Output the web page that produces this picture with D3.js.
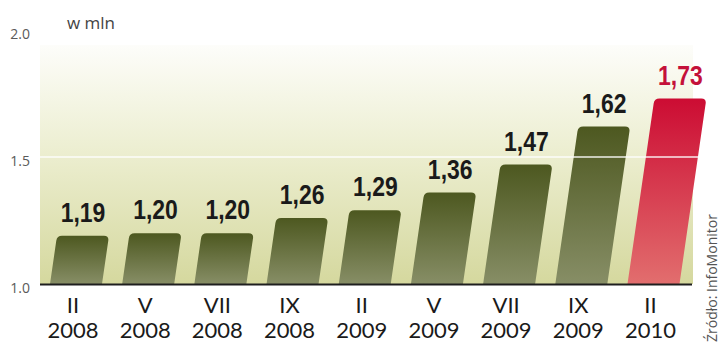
<!DOCTYPE html>
<html>
<head>
<meta charset="utf-8">
<script src="https://cdn.jsdelivr.net/npm/d3@7"></script>
<style>
  html, body { margin: 0; padding: 0; background: #ffffff; }
  svg { display: block; }
</style>
</head>
<body>
<svg id="chart" width="720" height="343"></svg>
<script>
// ---- data ----
const monthLabels = ["II", "V", "VII", "IX", "II", "V", "VII", "IX", "II"];
const yearLabels  = ["2008", "2008", "2008", "2008", "2009", "2009", "2009", "2009", "2010"];
const values      = [1.19, 1.20, 1.20, 1.26, 1.29, 1.36, 1.47, 1.62, 1.73];
const valueLabels = ["1,19", "1,20", "1,20", "1,26", "1,29", "1,36", "1,47", "1,62", "1,73"];
const highlight   = [false, false, false, false, false, false, false, false, true];
const yTicks      = [1.0, 1.5, 2.0];
const unitLabel   = "w mln";
const sourceLabel = "Źródło: InfoMonitor";

const svg = d3.select("#chart");
const keys = values.map((d, i) => i);

const y = d3.scaleLinear().domain([1, 2]).range([284, 30]);
const x = d3.scalePoint().domain(keys).range([76, 653.5]);
const barW = 52;
const slant = 0.145;
const skewDeg = Math.atan(slant) * 180 / Math.PI;
const plotL = 40, plotR = 693;

const defs = svg.append("defs");
const bg = defs.append("linearGradient").attr("id", "bgGrad")
  .attr("x1", 0).attr("y1", 0).attr("x2", 0).attr("y2", 1);
bg.append("stop").attr("offset", "0%").attr("stop-color", "#fdfdfa");
bg.append("stop").attr("offset", "45%").attr("stop-color", "#eceed0");
bg.append("stop").attr("offset", "100%").attr("stop-color", "#d5d89e");

const og = defs.append("linearGradient").attr("id", "oliveGrad")
  .attr("x1", 0).attr("y1", 0).attr("x2", 0).attr("y2", 1);
og.append("stop").attr("offset", "0%").attr("stop-color", "#4d5820");
og.append("stop").attr("offset", "100%").attr("stop-color", "#878e66");

const rg = defs.append("linearGradient").attr("id", "redGrad")
  .attr("x1", 0).attr("y1", 0).attr("x2", 0).attr("y2", 1);
rg.append("stop").attr("offset", "0%").attr("stop-color", "#cc0c33");
rg.append("stop").attr("offset", "100%").attr("stop-color", "#e26e6e");

// background
svg.append("rect")
  .attr("x", plotL).attr("y", 45)
  .attr("width", plotR - plotL).attr("height", y(1) - 45)
  .attr("fill", "url(#bgGrad)");

// y tick labels
svg.append("g").selectAll("text").data(yTicks).join("text")
  .attr("x", 30).attr("y", d => y(d) + 9)
  .attr("text-anchor", "end")
  .attr("font-family", "Open Sans, sans-serif")
  .attr("font-size", 14)
  .attr("fill", "#5a5a5a")
  .text(d => d3.format(".1f")(d));

// unit label
svg.append("text")
  .attr("x", 67).attr("y", 29)
  .attr("font-family", "Open Sans, sans-serif")
  .attr("font-size", 17)
  .attr("fill", "#444")
  .text(unitLabel);

// bars
const y0 = y(1);
const r = 5;
function barPath(i) {
  const cx = x(i);
  const x0 = cx - barW / 2, x1 = cx + barW / 2, yt = y(values[i]);
  return `M${x0},${y0} V${yt + r} Q${x0},${yt} ${x0 + r},${yt} H${x1 - r} Q${x1},${yt} ${x1},${yt + r} V${y0} Z`;
}
svg.append("g").selectAll("path").data(keys).join("path")
  .attr("d", barPath)
  .attr("transform", `translate(0,${y0}) skewX(${-skewDeg}) translate(0,${-y0})`)
  .attr("fill", i => highlight[i] ? "url(#redGrad)" : "url(#oliveGrad)");

// gridline at 1.5
svg.append("line")
  .attr("x1", plotL).attr("x2", 701)
  .attr("y1", y(1.5)).attr("y2", y(1.5))
  .attr("stroke", "#ffffff").attr("stroke-width", 1.5).attr("opacity", 0.9);

// baseline
svg.append("line")
  .attr("x1", plotL).attr("x2", plotR - 1)
  .attr("y1", y0 + 0.5).attr("y2", y0 + 0.5)
  .attr("stroke", "#1e1e1e").attr("stroke-width", 2);

// value labels
svg.append("g").selectAll("text").data(keys).join("text")
  .attr("transform", i => {
    const h = y0 - y(values[i]);
    const cx = x(i) + slant * h;
    return `translate(${cx},${y(values[i]) - 14}) scale(0.82,1)`;
  })
  .attr("text-anchor", "middle")
  .attr("font-family", "Liberation Sans, Arial, sans-serif")
  .attr("font-weight", "bold")
  .attr("font-size", 28)
  .attr("fill", i => highlight[i] ? "#c4113a" : "#1a1a1a")
  .text(i => valueLabels[i]);

// category labels
const cat = svg.append("g");
cat.selectAll("text.m").data(keys).join("text").attr("class", "m")
  .attr("x", i => x(i) - 3).attr("y", 313)
  .attr("text-anchor", "middle")
  .attr("font-family", "Lato, sans-serif")
  .attr("font-size", 22)
  .attr("fill", "#1a1a1a")
  .text(i => monthLabels[i]);
cat.selectAll("text.yr").data(keys).join("text").attr("class", "yr")
  .attr("x", i => x(i) - 3).attr("y", 338)
  .attr("text-anchor", "middle")
  .attr("font-family", "Lato, sans-serif")
  .attr("font-size", 22)
  .attr("fill", "#1a1a1a")
  .text(i => yearLabels[i]);

// source
svg.append("text")
  .attr("transform", "translate(717,342) rotate(-90)")
  .attr("font-family", "Open Sans, sans-serif")
  .attr("font-size", 14)
  .attr("fill", "#555")
  .text(sourceLabel);
</script>
</body>
</html>
